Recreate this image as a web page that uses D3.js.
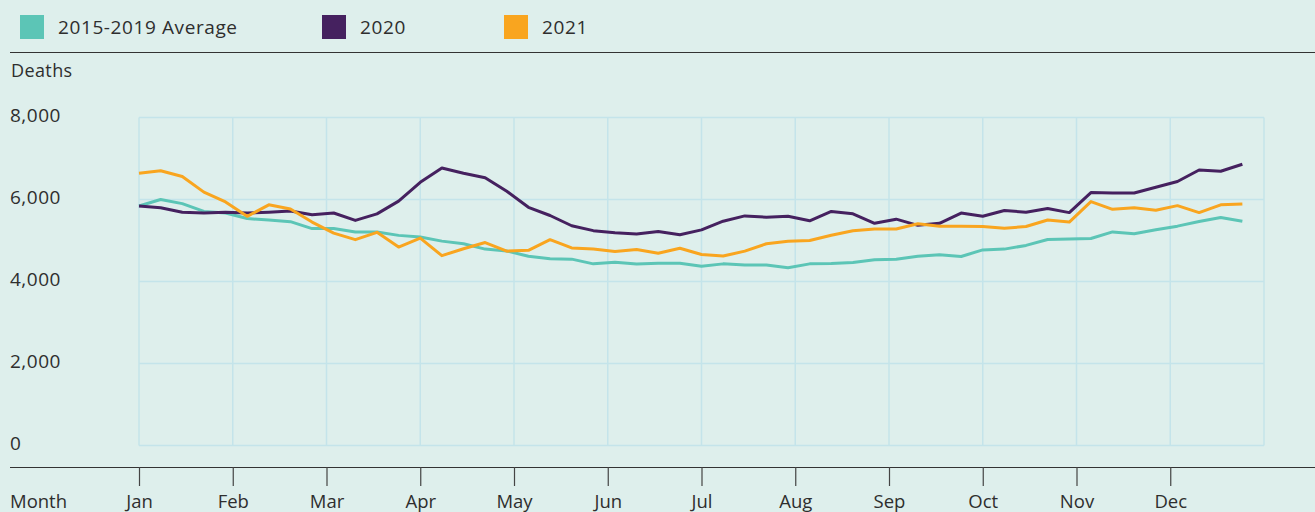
<!DOCTYPE html>
<html>
<head>
<meta charset="utf-8">
<script src="https://cdn.jsdelivr.net/npm/d3@7"></script>
<style>
  html, body { margin: 0; padding: 0; background: #deefec; }
  #chart { width: 1315px; height: 512px; }
  text { font-family: "Open Sans", sans-serif; fill: #2e2e2e; }
</style>
</head>
<body>
<div id="chart"></div>
<script>
// weekly deaths, week 0..51
var months = ['Jan', 'Feb', 'Mar', 'Apr', 'May', 'Jun', 'Jul', 'Aug', 'Sep', 'Oct', 'Nov', 'Dec'];
var yTicks = [0, 2000, 4000, 6000, 8000];
var seriesNames = ['2015-2019 Average', '2020', '2021'];
var seriesColors = ['#5cc5b6', '#45215f', '#f9a51f'];

var avg2015_2019 = [5840, 6000, 5900, 5710, 5670, 5535, 5500, 5460, 5290, 5295, 5205, 5205, 5125, 5085, 4985, 4920,
  4790, 4745, 4615, 4555, 4545, 4430, 4470, 4425, 4445, 4445, 4370, 4430, 4400, 4400, 4335, 4430, 4440, 4465,
  4530, 4545, 4615, 4650, 4610, 4770, 4790, 4880, 5025, 5035, 5050, 5210, 5165, 5260, 5350, 5465, 5560, 5470];
var deaths2020 = [5840, 5800, 5690, 5670, 5690, 5670, 5690, 5720, 5630, 5670, 5490, 5650, 5960, 6420, 6770, 6640,
  6530, 6200, 5810, 5610, 5360, 5240, 5190, 5160, 5220, 5140, 5260, 5470, 5600, 5570, 5590, 5480, 5710, 5650,
  5420, 5520, 5370, 5420, 5670, 5590, 5730, 5690, 5780, 5680, 6170, 6160, 6160, 6300, 6440, 6720, 6690, 6860];
var deaths2021 = [6640, 6700, 6560, 6180, 5940, 5590, 5870, 5770, 5450, 5180, 5020, 5200, 4840, 5060, 4630, 4800,
  4950, 4740, 4760, 5020, 4820, 4790, 4730, 4780, 4690, 4810, 4660, 4620, 4740, 4920, 4980, 5000, 5130, 5240,
  5280, 5280, 5410, 5350, 5350, 5340, 5300, 5340, 5500, 5450, 5950, 5760, 5800, 5740, 5850, 5680, 5870, 5890];

var allSeries = [avg2015_2019, deaths2020, deaths2021];

var W = 1315, H = 512;
var svg = d3.select('#chart').append('svg')
  .attr('width', W)
  .attr('height', H);

// plot area
var x = d3.scaleLinear().domain([0, 52]).range([139, 1264]);
var y = d3.scaleLinear().domain([0, 8000]).range([445.5, 117.5]);

// legend
var legX = [20, 322, 504];
var leg = svg.selectAll('.leg').data(seriesNames).enter().append('g')
  .attr('class', 'leg')
  .attr('transform', function(d, i) { return 'translate(' + legX[i] + ',15)'; });
leg.append('rect')
  .attr('width', 24).attr('height', 24)
  .attr('fill', function(d, i) { return seriesColors[i]; });
leg.append('text')
  .attr('x', 38).attr('y', 12)
  .attr('dy', '0.36em')
  .style('font-size', '19px')
  .style('letter-spacing', '0.6px')
  .text(function(d) { return d; });

// rules
svg.append('line').attr('x1', 10).attr('x2', W).attr('y1', 52.5).attr('y2', 52.5)
  .attr('stroke', '#333').attr('stroke-width', 1.2);

svg.append('text').attr('x', 11).attr('y', 77).style('font-size', '18px')
  .style('letter-spacing', '0.4px').text('Deaths');

// grid
var monthTicks = months.map(function(m, i) { return i * 52 / 12; });
svg.append('g').selectAll('line').data(yTicks).enter().append('line')
  .attr('x1', x(0)).attr('x2', x(52))
  .attr('y1', function(d) { return y(d); }).attr('y2', function(d) { return y(d); })
  .attr('stroke', '#c4e4ea').attr('stroke-width', 1.5);
svg.append('g').selectAll('line').data(monthTicks.concat([52])).enter().append('line')
  .attr('x1', function(d) { return x(d); }).attr('x2', function(d) { return x(d); })
  .attr('y1', y(8000)).attr('y2', y(0))
  .attr('stroke', '#c4e4ea').attr('stroke-width', 1.5);

// y labels
svg.append('g').selectAll('text').data(yTicks).enter().append('text')
  .attr('x', 10)
  .attr('y', function(d) { return y(d) - 2; })
  .attr('dy', '0.36em')
  .style('font-size', '19px')
  .style('letter-spacing', '0.5px')
  .text(function(d) { return d3.format(',')(d); });

// x axis
svg.append('line').attr('x1', 10).attr('x2', W).attr('y1', 467.5).attr('y2', 467.5)
  .attr('stroke', '#333').attr('stroke-width', 1.2);
var xAxis = d3.axisBottom(x)
  .tickValues(monthTicks)
  .tickSize(19)
  .tickPadding(9)
  .tickFormat(function(d, i) { return months[i]; });
var xAxisG = svg.append('g')
  .attr('transform', 'translate(0,467)')
  .call(xAxis);
xAxisG.select('.domain').remove();
xAxisG.selectAll('line').attr('stroke', '#444').attr('stroke-width', 1.2);
xAxisG.selectAll('text').style('font-size', '18.5px').style('font-family', '"Open Sans", sans-serif').attr('fill', '#2e2e2e');
svg.append('text').attr('x', 10).attr('y', 508).style('font-size', '18.5px').text('Month');

// lines
var line = d3.line()
  .x(function(d, i) { return x(i); })
  .y(function(d) { return y(d); });
svg.append('g').selectAll('path').data(allSeries).enter().append('path')
  .attr('d', line)
  .attr('fill', 'none')
  .attr('stroke', function(d, i) { return seriesColors[i]; })
  .attr('stroke-width', 3)
  .attr('stroke-linejoin', 'round');
</script>
</body>
</html>
